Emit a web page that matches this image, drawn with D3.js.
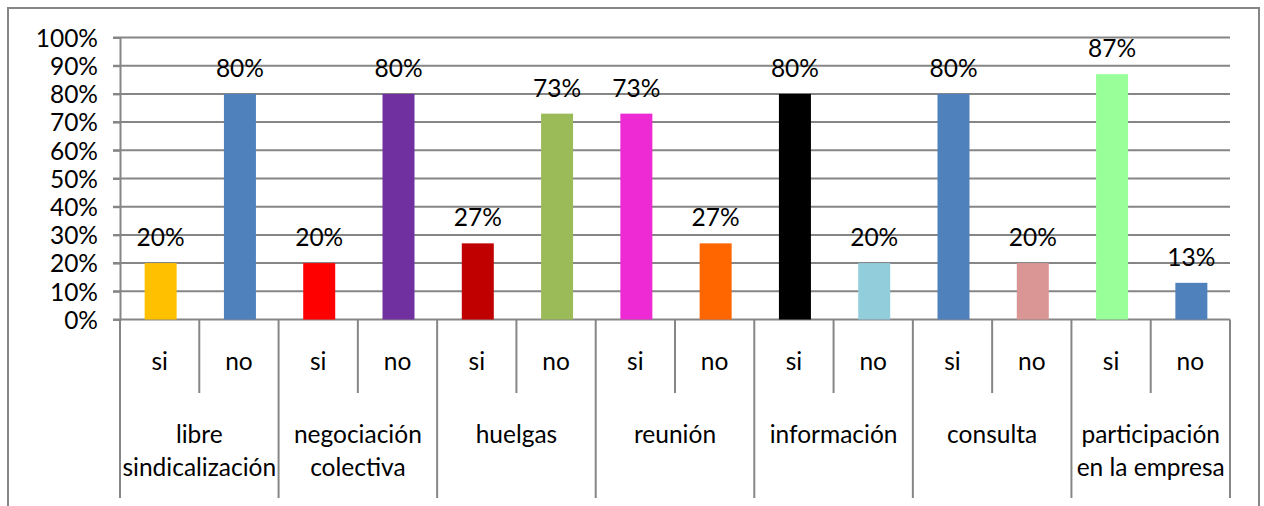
<!DOCTYPE html>
<html>
<head>
<meta charset="utf-8">
<script src="https://cdn.jsdelivr.net/npm/d3@7"></script>
<style>
  body { margin: 0; background: #fff; }
  svg { display: block; font-family: Lato, "Open Sans", sans-serif; }
</style>
</head>
<body>
<svg id="chart" width="1264" height="506"></svg>
<script>
// categories and values
const groups = [["libre", "sindicalización"], ["negociación", "colectiva"], ["huelgas"], ["reunión"],
  ["información"], ["consulta"], ["participación", "en la empresa"]];
const answers = ["si", "no"];
const values = [0.20, 0.80, 0.20, 0.80, 0.27, 0.73, 0.73, 0.27, 0.80, 0.20, 0.80, 0.20, 0.87, 0.13];
const colors = ["#FFC000", "#4F81BD", "#FF0000", "#7030A0", "#C00000", "#9BBB59", "#EE2AD4",
  "#FF6600", "#000000", "#92CDDC", "#4F81BD", "#DA9694", "#99FF99", "#4F81BD"];
const yTicks = [0, 0.1, 0.2, 0.3, 0.4, 0.5, 0.6, 0.7, 0.8, 0.9, 1];

const svg = d3.select("#chart");
const grey = "#868686";
const fs = 24.5;

// outer frame
svg.append("rect")
    .attr("x", 8).attr("y", 8).attr("width", 1251).attr("height", 520)
    .attr("fill", "none").attr("stroke", grey).attr("stroke-width", 2);

const plotL = 120, plotR = 1230, plotT = 37.5, plotB = 319.5;

const slots = d3.range(values.length);
const x = d3.scaleBand().domain(slots).range([plotL, plotR]).padding(0);
const y = d3.scaleLinear().domain([0, 1]).range([plotB, plotT]);

// gridlines
svg.append("g")
  .selectAll("line")
  .data(yTicks)
  .join("line")
    .attr("x1", plotL - 7).attr("x2", plotR)
    .attr("y1", d => y(d)).attr("y2", d => y(d))
    .attr("stroke", grey).attr("stroke-width", 2);

// y axis
const yAxis = svg.append("g")
    .attr("transform", `translate(${plotL},0)`)
    .call(d3.axisLeft(y).tickValues(yTicks).tickSize(7).tickFormat(d3.format(".0%")));
yAxis.select(".domain").attr("stroke", grey).attr("stroke-width", 2);
yAxis.selectAll(".tick line").attr("stroke", grey).attr("stroke-width", 2);
yAxis.selectAll(".tick text")
    .attr("x", -22)
    .attr("dy", "0.36em")
    .attr("font-size", fs)
    .attr("font-family", "Lato, sans-serif")
    .attr("fill", "#000");

// bars
const bw = 32;
svg.append("g")
  .selectAll("rect")
  .data(values)
  .join("rect")
    .attr("x", (d, i) => x(i) + x.bandwidth() / 2 - bw / 2 + 1)
    .attr("width", bw)
    .attr("y", d => y(d))
    .attr("height", d => y(0) - y(d))
    .attr("fill", (d, i) => colors[i]);

// value labels
svg.append("g")
  .selectAll("text")
  .data(values)
  .join("text")
    .attr("x", (d, i) => x(i) + x.bandwidth() / 2 + 1)
    .attr("y", d => y(d) - 17)
    .attr("text-anchor", "middle")
    .attr("font-size", fs)
    .text(d => d3.format(".0%")(d));

// x axis separators
const seps = d3.range(values.length + 1);
svg.append("g")
  .selectAll("line")
  .data(seps)
  .join("line")
    .attr("x1", i => i < values.length ? x(i) : plotR)
    .attr("x2", i => i < values.length ? x(i) : plotR)
    .attr("y1", plotB)
    .attr("y2", i => i % 2 === 0 ? 498 : 393)
    .attr("stroke", grey).attr("stroke-width", 2);

// sub labels
svg.append("g")
  .selectAll("text")
  .data(slots)
  .join("text")
    .attr("x", i => x(i) + x.bandwidth() / 2)
    .attr("y", 370)
    .attr("text-anchor", "middle")
    .attr("font-size", fs)
    .text(i => answers[i % 2]);

// group labels
const gl = svg.append("g")
  .selectAll("text")
  .data(groups)
  .join("text")
    .attr("x", (d, g) => x(g * 2) + x.bandwidth())
    .attr("y", 443)
    .attr("text-anchor", "middle")
    .attr("font-size", fs);
gl.selectAll("tspan")
  .data(d => d)
  .join("tspan")
    .attr("x", function() { return this.parentNode.getAttribute("x"); })
    .attr("dy", (d, k) => k === 0 ? 0 : 33)
    .text(d => d);
</script>
</body>
</html>
